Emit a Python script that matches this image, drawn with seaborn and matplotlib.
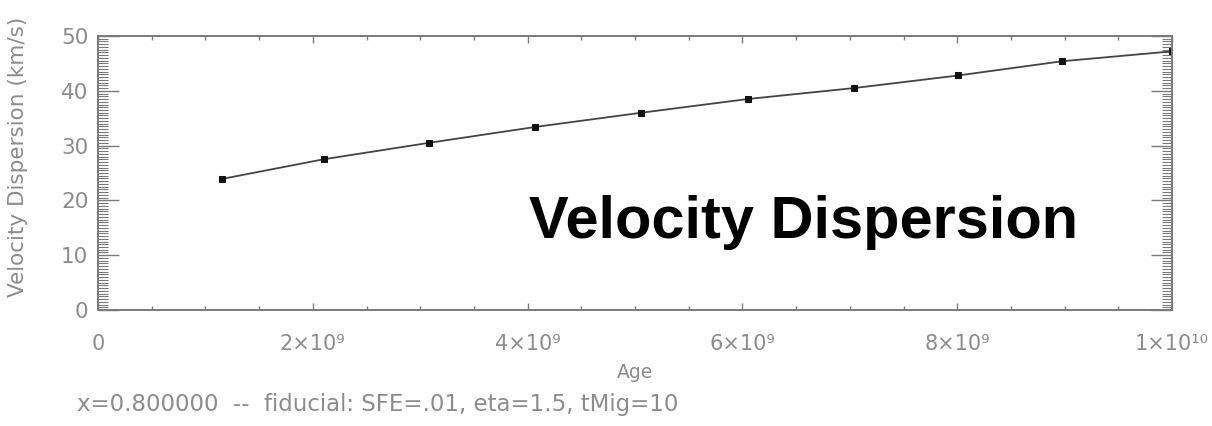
import matplotlib
matplotlib.use("Agg")
import matplotlib.pyplot as plt
import seaborn as sns
import pandas as pd
import numpy as np
from matplotlib.ticker import MultipleLocator, FixedLocator

# ---- data ----
age = [1.15e9, 2.10e9, 3.08e9, 4.07e9, 5.06e9, 6.05e9, 7.04e9, 8.01e9, 8.98e9, 1.0e10]
velocity_dispersion = [23.9, 27.5, 30.5, 33.4, 36.0, 38.5, 40.5, 42.8, 45.4, 47.2]
x_tick_values = [0, 2e9, 4e9, 6e9, 8e9, 1e10]
x_tick_labels = ["0", "2×10⁹", "4×10⁹", "6×10⁹", "8×10⁹", "1×10¹⁰"]
y_tick_values = [0, 10, 20, 30, 40, 50]
y_tick_labels = ["0", "10", "20", "30", "40", "50"]

sns.set_theme(style="white")
plt.rcParams['font.family'] = ['DejaVu Sans']

GRAY = "#8c8c8c"
AXGRAY = "#7a7a7a"

df = pd.DataFrame({"Age": age, "VD": velocity_dispersion})

fig = plt.figure(figsize=(12.12, 4.26), dpi=100)
ax = fig.add_axes([98/1212, 116/426, (1172-98)/1212, (310-36)/426])

sns.lineplot(data=df, x="Age", y="VD", ax=ax, color="#444444", linewidth=1.3,
             marker="s", markersize=4.0, markeredgecolor="#111111",
             markerfacecolor="#111111")

ax.set_xlim(0, 1e10)
ax.set_ylim(0, 50)

for s in ax.spines.values():
    s.set_color(AXGRAY)
    s.set_linewidth(1.4)
    s.set_visible(True)

ax.xaxis.set_major_locator(FixedLocator(x_tick_values))
ax.set_xticklabels(x_tick_labels)
ax.xaxis.set_minor_locator(MultipleLocator(5e8))
ax.yaxis.set_major_locator(FixedLocator(y_tick_values))
ax.set_yticklabels(y_tick_labels)
ax.yaxis.set_minor_locator(MultipleLocator(0.5))

ax.tick_params(axis="x", which="major", direction="in", length=5, width=1.0,
               color=AXGRAY, top=True, bottom=True, labelsize=15,
               labelcolor=GRAY, pad=17)
ax.tick_params(axis="x", which="minor", direction="in", length=3, width=1.0,
               color=AXGRAY, top=True, bottom=True)
ax.tick_params(axis="y", which="major", direction="in", length=15, width=1.0,
               color=AXGRAY, left=True, right=True, labelsize=15.5,
               labelcolor=GRAY, pad=7)
ax.tick_params(axis="y", which="minor", direction="in", length=7, width=0.8,
               color=AXGRAY, left=True, right=True)

ax.set_xlabel("")
ax.set_ylabel("")

fig.text(635/1212, 1 - 372/426, "Age", ha="center", va="center",
         fontsize=13.5, color=GRAY)
fig.text(18/1212, 1 - 157/426, "Velocity Dispersion (km/s)", ha="center",
         va="center", rotation=90, fontsize=15.5, color=GRAY)
fig.text(77/1212, 1 - 405/426,
         "x=0.800000  --  fiducial: SFE=.01, eta=1.5, tMig=10",
         ha="left", va="center", fontsize=16.5, color=GRAY)

fig.text(804/1212, 1 - 222/426, "Velocity Dispersion", ha="center",
         va="center", fontsize=42.8, fontweight="bold", color="black",
         family=["Liberation Sans"])

fig.savefig("out.png", dpi=100, facecolor="white")
